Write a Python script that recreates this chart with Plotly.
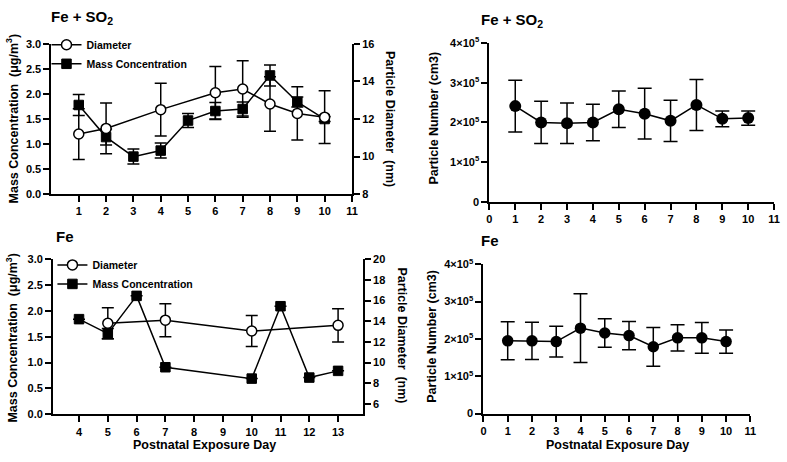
import plotly.graph_objects as go

# ---------------- DATA ----------------
# Top-left: Fe + SO2, mass concentration (ug/m3) and particle diameter (nm)
fs_mass_days = [1, 2, 3, 4, 5, 6, 7, 8, 9, 10]
fs_mass = [1.78, 1.14, 0.75, 0.87, 1.47, 1.66, 1.70, 2.37, 1.84, 1.50]
fs_mass_err = [0.21, 0.16, 0.15, 0.15, 0.14, 0.17, 0.14, 0.21, 0.10, 0.05]
fs_diam_days = [1, 2, 4, 6, 7, 8, 9, 10]
fs_diam = [11.2, 11.5, 12.5, 13.4, 13.6, 12.8, 12.3, 12.1]
fs_diam_err = [1.35, 1.35, 1.4, 1.4, 1.5, 1.45, 1.42, 1.4]

# Top-right: Fe + SO2, particle number
fs_num_days = [1, 2, 3, 4, 5, 6, 7, 8, 9, 10]
fs_num = [2.41e5, 2.00e5, 1.98e5, 2.00e5, 2.33e5, 2.22e5, 2.04e5, 2.44e5, 2.09e5, 2.11e5]
fs_num_err = [0.65e5, 0.53e5, 0.51e5, 0.46e5, 0.46e5, 0.64e5, 0.52e5, 0.64e5, 0.20e5, 0.18e5]

# Bottom-left: Fe, mass concentration and diameter
fe_mass_days = [4, 5, 6, 7, 10, 11, 12, 13]
fe_mass = [1.84, 1.56, 2.29, 0.91, 0.69, 2.09, 0.71, 0.84]
fe_mass_err = [0.0, 0.10, 0.0, 0.0, 0.0, 0.0, 0.0, 0.0]
fe_diam_days = [5, 7, 10, 13]
fe_diam = [13.8, 14.1, 13.05, 13.6]
fe_diam_err = [1.5, 1.6, 1.5, 1.6]

# Bottom-right: Fe, particle number
fe_num_days = [1, 2, 3, 4, 5, 6, 7, 8, 9, 10]
fe_num = [1.95e5, 1.95e5, 1.93e5, 2.29e5, 2.16e5, 2.09e5, 1.79e5, 2.03e5, 2.03e5, 1.93e5]
fe_num_err = [0.51e5, 0.50e5, 0.41e5, 0.92e5, 0.38e5, 0.38e5, 0.52e5, 0.35e5, 0.41e5, 0.31e5]

# Tick labels
mass_ticks = [0, 0.5, 1.0, 1.5, 2.0, 2.5, 3.0]
num_ticks = [0, 1e5, 2e5, 3e5, 4e5]
num_ticktext = ["0", "1×10<sup>5</sup>", "2×10<sup>5</sup>", "3×10<sup>5</sup>", "4×10<sup>5</sup>"]

# ---------------- FIGURE ----------------
W, H = 787, 462
FONT = "Liberation Sans, Arial, sans-serif"


def px_x(p):
    return p / W


def px_y(p):
    return 1 - p / H


def err(vals, width=6, thick=1.5):
    return dict(type="data", array=vals, visible=True, color="black", thickness=thick, width=width)


fig = go.Figure()

# Top-left
fig.add_trace(go.Scatter(
    x=fs_diam_days, y=fs_diam, name="Diameter", mode="lines+markers",
    xaxis="x", yaxis="y2", legend="legend",
    line=dict(color="black", width=1.5),
    marker=dict(symbol="circle", size=10, color="white", line=dict(color="black", width=1.5)),
    error_y=err(fs_diam_err)))
fig.add_trace(go.Scatter(
    x=fs_mass_days, y=fs_mass, name="Mass Concentration", mode="lines+markers",
    xaxis="x", yaxis="y", legend="legend",
    line=dict(color="black", width=1.5),
    marker=dict(symbol="square", size=9.5, color="black", line=dict(color="black", width=1)),
    error_y=err(fs_mass_err)))

# Top-right
fig.add_trace(go.Scatter(
    x=fs_num_days, y=fs_num, mode="lines+markers", showlegend=False,
    xaxis="x2", yaxis="y3",
    line=dict(color="black", width=1.5),
    marker=dict(symbol="circle", size=12, color="black"),
    error_y=err(fs_num_err, width=7)))

# Bottom-left
fig.add_trace(go.Scatter(
    x=fe_diam_days, y=fe_diam, name="Diameter", mode="lines+markers",
    xaxis="x3", yaxis="y5", legend="legend2",
    line=dict(color="black", width=1.5),
    marker=dict(symbol="circle", size=10, color="white", line=dict(color="black", width=1.5)),
    error_y=err(fe_diam_err)))
fig.add_trace(go.Scatter(
    x=fe_mass_days, y=fe_mass, name="Mass Concentration", mode="lines+markers",
    xaxis="x3", yaxis="y4", legend="legend2",
    line=dict(color="black", width=1.5),
    marker=dict(symbol="square", size=9.5, color="black", line=dict(color="black", width=1)),
    error_y=err(fe_mass_err)))

# Bottom-right
fig.add_trace(go.Scatter(
    x=fe_num_days, y=fe_num, mode="lines+markers", showlegend=False,
    xaxis="x4", yaxis="y6",
    line=dict(color="black", width=1.5),
    marker=dict(symbol="circle", size=11.5, color="black"),
    error_y=err(fe_num_err, width=7)))

tickfont = dict(family=FONT, size=11, color="black", weight="bold")
common = dict(showline=True, linewidth=2, linecolor="black", ticks="outside", ticklen=6,
              tickwidth=2, tickcolor="black", showgrid=False, zeroline=False,
              tickfont=tickfont, mirror=False)

fig.update_layout(
    width=W, height=H, autosize=False,
    margin=dict(l=0, r=0, t=0, b=0, pad=0),
    paper_bgcolor="white", plot_bgcolor="white",
    font=dict(family=FONT, color="black", weight="bold"),
    hovermode=False,
    xaxis=dict(domain=[px_x(49), px_x(353)], range=[0, 11], tickvals=list(range(1, 12)), anchor="y", **common),
    yaxis=dict(domain=[px_y(192), px_y(37)], range=[0, 3], tickvals=mass_ticks, tickformat=".1f", anchor="x", **common),
    yaxis2=dict(range=[8, 16], tickvals=[8, 10, 12, 14, 16], overlaying="y", side="right", anchor="x", **common),
    xaxis2=dict(domain=[px_x(492), px_x(780)], range=[0, 11], tickvals=list(range(0, 12)), anchor="y3", **common),
    yaxis3=dict(domain=[px_y(200), px_y(36)], range=[0, 4e5], tickvals=num_ticks, ticktext=num_ticktext, anchor="x2", **common),
    xaxis3=dict(domain=[px_x(50.7), px_x(364)], range=[3.1, 13.86], tickvals=list(range(4, 14)), anchor="y4", **common),
    yaxis4=dict(domain=[px_y(419), px_y(259)], range=[0, 3], tickvals=mass_ticks, tickformat=".1f", anchor="x3", **common),
    yaxis5=dict(range=[5, 20], tickvals=[6, 8, 10, 12, 14, 16, 18, 20], overlaying="y4", side="right", anchor="x3", **common),
    xaxis4=dict(domain=[px_x(486), px_x(756)], range=[0, 11], tickvals=list(range(0, 12)), anchor="y6", **common),
    yaxis6=dict(domain=[px_y(418.3), px_y(264.3)], range=[0, 4e5], tickvals=num_ticks, ticktext=num_ticktext, anchor="x4", **common),
    legend=dict(x=px_x(44), y=px_y(23), xanchor="left", yanchor="top", bgcolor="rgba(0,0,0,0)",
                font=dict(family=FONT, size=10.5, color="black", weight="bold"), tracegroupgap=0),
    legend2=dict(x=px_x(50), y=px_y(250), xanchor="left", yanchor="top", bgcolor="rgba(0,0,0,0)",
                 font=dict(family=FONT, size=10.5, color="black", weight="bold"), tracegroupgap=0),
)

tfont = dict(family=FONT, size=15, color="black", weight="bold")
afont = dict(family=FONT, size=12.5, color="black", weight="bold")
ann = [
    dict(text="Fe + SO<sub>2</sub>", x=px_x(47), y=px_y(10), xanchor="left", yanchor="middle", font=tfont),
    dict(text="Fe + SO<sub>2</sub>", x=px_x(482), y=px_y(13), xanchor="left", yanchor="middle", font=tfont),
    dict(text="Fe", x=px_x(52), y=px_y(236), xanchor="left", yanchor="middle", font=tfont),
    dict(text="Fe", x=px_x(482), y=px_y(240), xanchor="left", yanchor="middle", font=tfont),
    dict(text="Mass Concentration  (μg/m<sup>3</sup>)", x=px_x(9), y=px_y(114), textangle=-90, font=afont),
    dict(text="Mass Concentration  (μg/m<sup>3</sup>)", x=px_x(9), y=px_y(340), textangle=-90, font=afont),
    dict(text="Particle Diameter  (nm)", x=px_x(392), y=px_y(114), textangle=90, font=afont),
    dict(text="Particle Diameter  (nm)", x=px_x(404), y=px_y(338), textangle=90, font=afont),
    dict(text="Particle Number (cm3)", x=px_x(436), y=px_y(114), textangle=-90, font=afont),
    dict(text="Particle Number (cm3)", x=px_x(434), y=px_y(339), textangle=-90, font=afont),
    dict(text="Postnatal Exposure Day", x=px_x(204), y=px_y(451), font=afont),
    dict(text="Postnatal Exposure Day", x=px_x(622), y=px_y(451), font=afont),
]
for a in ann:
    a.update(xref="paper", yref="paper", showarrow=False)
    a.setdefault("xanchor", "center")
    a.setdefault("yanchor", "middle")
fig.update_layout(annotations=ann)

fig.write_html("out.html", config={"displayModeBar": False, "staticPlot": False},
               post_script="document.body.style.margin='0px';")
